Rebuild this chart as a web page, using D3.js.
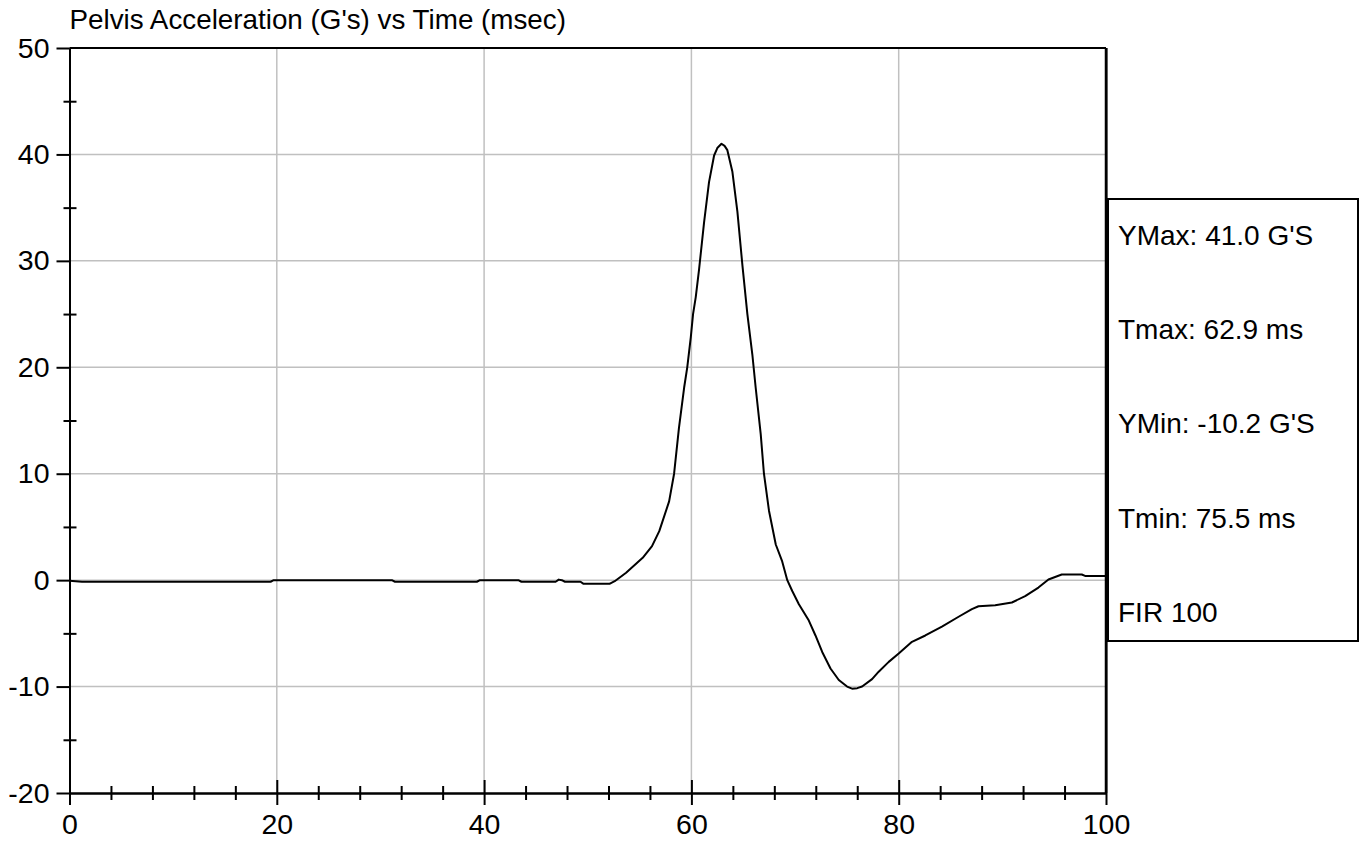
<!DOCTYPE html>
<html>
<head>
<meta charset="utf-8">
<script src="https://cdn.jsdelivr.net/npm/d3@7"></script>
<style>
  body { margin: 0; background: #fff; }
  text { font-family: Arial, "Liberation Sans", sans-serif; fill: #000; }
</style>
</head>
<body>
<svg></svg>
<script>
// pelvis acceleration trace
var time = [0, 1.2, 19.4, 19.7, 31.1, 31.4, 39.3, 39.6, 43.3, 43.6, 46.9, 47.2, 47.5, 47.8, 49.3, 49.6,
      52.1, 52.6, 53.7, 55.3, 56.2, 56.9, 57.85, 58.33, 58.8, 59.3, 59.6, 59.94, 60.16, 60.42, 60.74,
      61.22, 61.7, 62.19, 62.5, 62.9, 63.2, 63.47, 63.95, 64.44, 64.92, 65.4, 65.88, 66.2, 66.69, 67.0,
      67.49, 68.14, 68.76, 69.25, 69.73, 70.37, 71.33, 71.97, 72.62, 73.42, 74.22, 75.02, 75.5, 76.0,
      76.47, 77.43, 78.07, 79.04, 80.0, 81.28, 82.57, 84.17, 85.78, 87.06, 87.7, 89.31, 90.92, 92.2,
      93.48, 94.45, 95.73, 97.66, 97.98, 100];
var accel = [-0.05, -0.15, -0.15, 0, 0, -0.15, -0.15, 0, 0, -0.15, -0.15, 0.05, 0, -0.15, -0.15, -0.35,
      -0.35, -0.1, 0.7, 2.1, 3.2, 4.6, 7.4, 10, 14.3, 18.1, 20, 22.8, 25.0, 26.6, 29.2,
      33.6, 37.4, 39.9, 40.6, 41.0, 40.8, 40.4, 38.4, 34.6, 29.6, 25.0, 21.2, 18.1, 13.7, 10,
      6.5, 3.35, 1.76, 0, -1.02, -2.26, -3.8, -5.2, -6.75, -8.3, -9.38, -10.0, -10.2, -10.15,
      -10.0, -9.3, -8.6, -7.68, -6.9, -5.8, -5.2, -4.37, -3.44, -2.72, -2.45, -2.35, -2.1, -1.5,
      -0.7, 0.06, 0.53, 0.53, 0.4, 0.4];

var xMajor = [0, 20, 40, 60, 80, 100];
var xMinor = [4, 8, 12, 16, 24, 28, 32, 36, 44, 48, 52, 56, 64, 68, 72, 76, 84, 88, 92, 96];
var yMajor = [-20, -10, 0, 10, 20, 30, 40, 50];
var yMinor = [-15, -5, 5, 15, 25, 35, 45];
var title = "Pelvis Acceleration (G's) vs Time (msec)";
var stats = ["YMax: 41.0 G'S", "Tmax: 62.9 ms", "YMin: -10.2 G'S", "Tmin: 75.5 ms", "FIR 100"];

var width = 1367;
var height = 846;
var plotLeft = 69.5, plotRight = 1106, plotTop = 48, plotBottom = 793;

var svg = d3.select("svg")
      .attr("width", width)
      .attr("height", height);

var xScale = d3.scaleLinear().domain([0, 100]).range([plotLeft, plotRight]);
var yScale = d3.scaleLinear().domain([-20, 50]).range([plotBottom, plotTop]);

// grid
svg.append("g").selectAll("line")
      .data(xMajor.slice(1, -1))
      .enter().append("line")
      .attr("x1", d => xScale(d)).attr("x2", d => xScale(d))
      .attr("y1", plotTop).attr("y2", plotBottom)
      .attr("stroke", "#c0c0c0").attr("stroke-width", 1.5);
svg.append("g").selectAll("line")
      .data(yMajor.slice(1, -1))
      .enter().append("line")
      .attr("x1", plotLeft).attr("x2", plotRight)
      .attr("y1", d => yScale(d)).attr("y2", d => yScale(d))
      .attr("stroke", "#c0c0c0").attr("stroke-width", 1.5);

// frame: top and right
svg.append("line").attr("x1", plotLeft).attr("x2", plotRight).attr("y1", plotTop).attr("y2", plotTop)
      .attr("stroke", "#000").attr("stroke-width", 2);
svg.append("line").attr("x1", plotRight).attr("x2", plotRight).attr("y1", plotTop).attr("y2", plotBottom)
      .attr("stroke", "#000").attr("stroke-width", 2.5);

// the trace
var line = d3.line()
      .x((d, i) => xScale(time[i]))
      .y(d => yScale(d));
svg.append("path")
      .datum(accel)
      .attr("d", line)
      .attr("fill", "none")
      .attr("stroke", "#000")
      .attr("stroke-width", 2)
      .attr("stroke-linejoin", "round");

// y axis (plain hyphen for negatives, like the original)
var plain = d => String(d);
var yAxis = svg.append("g").attr("transform", "translate(" + plotLeft + ",0)")
      .call(d3.axisLeft(yScale).tickValues(yMajor).tickFormat(plain).tickSize(13).tickPadding(7).tickSizeOuter(0));
var yMinorAxis = svg.append("g").attr("transform", "translate(" + plotLeft + ",0)")
      .call(d3.axisLeft(yScale).tickValues(yMinor).tickSize(6).tickFormat("").tickSizeOuter(0));
yMinorAxis.selectAll(".tick line").attr("x1", 7);

// x axis
var xAxis = svg.append("g").attr("transform", "translate(0," + plotBottom + ")")
      .call(d3.axisBottom(xScale).tickValues(xMajor).tickFormat(plain).tickSize(12).tickPadding(9).tickSizeOuter(0));
xAxis.selectAll(".tick line").attr("y1", d => (d > 0 && d < 100) ? -13 : 0);
xAxis.selectAll(".tick").filter(d => d === 100).select("line").attr("y1", -(plotBottom - plotTop));
var xMinorAxis = svg.append("g").attr("transform", "translate(0," + plotBottom + ")")
      .call(d3.axisBottom(xScale).tickValues(xMinor).tickSize(7).tickFormat("").tickSizeOuter(0));
xMinorAxis.selectAll(".tick line").attr("y1", -7);

svg.selectAll(".domain").attr("stroke", "#000").attr("stroke-width", 2);
svg.selectAll(".tick line").attr("stroke", "#000").attr("stroke-width", 2);
svg.selectAll(".tick text")
      .style("font-family", "Arial, 'Liberation Sans', sans-serif")
      .style("font-size", "28.5px")
      .attr("fill", "#000");

// title
svg.append("text")
      .attr("x", plotLeft)
      .attr("y", 29)
      .style("font-size", "27.8px")
      .text(title);

// stats box
var box = svg.append("g");
box.append("rect")
      .attr("x", 1108).attr("y", 199)
      .attr("width", 250).attr("height", 442)
      .attr("fill", "#fff").attr("stroke", "#000").attr("stroke-width", 2);
box.selectAll("text")
      .data(stats)
      .enter().append("text")
      .attr("x", 1118)
      .attr("y", (d, i) => 245 + i * 94.2)
      .style("font-size", "28px")
      .text(d => d);
</script>
</body>
</html>
